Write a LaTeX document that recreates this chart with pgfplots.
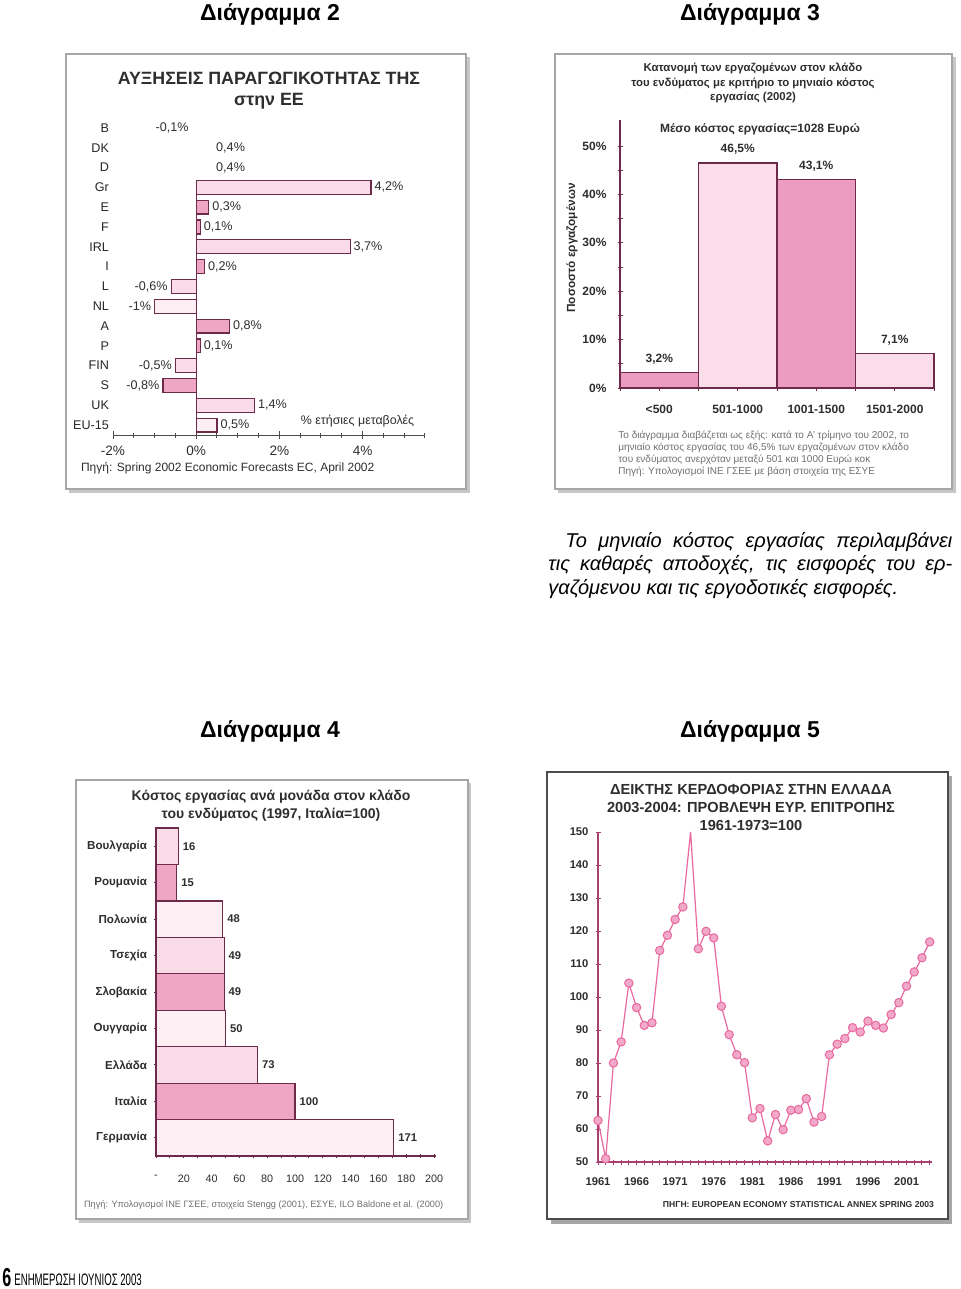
\documentclass[border=0pt]{standalone}
\usepackage{fontspec}
\setmainfont{Liberation Sans}
\usepackage{pgfplots}
\pgfplotsset{compat=1.18}
\definecolor{edge}{HTML}{6E2A4B}
\definecolor{pkL}{HTML}{FADCE8}
\definecolor{pkM}{HTML}{EFA6C5}
\definecolor{pkV}{HTML}{FDEFF4}
\definecolor{pk3M}{HTML}{EC9CC0}
\definecolor{pk3L}{HTML}{FBDDE9}
\definecolor{lineP}{HTML}{E8699F}
\definecolor{markP}{HTML}{F2A8C8}
\definecolor{axP}{HTML}{A8406F}
\definecolor{srcgray}{HTML}{707070}
\definecolor{txt}{HTML}{2E2E2E}
\pgfplotsset{
  every axis/.append style={scale only axis, tick align=outside},
  posl/.style={every node near coord/.append style={anchor=west}},
  negl/.style={every node near coord/.append style={anchor=east}},
}
\begin{document}
\begin{tikzpicture}[x=0.5pt,y=-0.5pt]
\useasboundingbox (0,0) rectangle (960,1289);
\fill[white] (0,0) rectangle (960,1289);

% ---------- headers ----------
\begin{scope}[every node/.style={font=\bfseries\fontsize{11.5}{13}\selectfont, text=black}]
\node at (270,14) {Διάγραμμα 2};
\node at (750,14) {Διάγραμμα 3};
\node at (270,731) {Διάγραμμα 4};
\node at (750,731) {Διάγραμμα 5};
\end{scope}

% ---------- boxes ----------
\fill[black!22] (69,57) rectangle (470,493);
\draw[fill=white, draw=black!35, line width=1pt] (66,54) rectangle (466,489);
\fill[black!22] (558,57) rectangle (956,493);
\draw[fill=white, draw=black!35, line width=1pt] (555,54) rectangle (952,489);
\fill[black!22] (79,783) rectangle (471,1223);
\draw[fill=white, draw=black!35, line width=1pt] (76,780) rectangle (468,1219);
\fill[black!35] (551,776) rectangle (952,1224);
\draw[fill=white, draw=black!70, line width=1.2pt] (547,772) rectangle (948,1219);

% ================= Chart 2 =================
\node[align=center, text=txt, font=\bfseries\fontsize{8.9}{10.5}\selectfont] at (269,91) {ΑΥΞΗΣΕΙΣ ΠΑΡΑΓΩΓΙΚΟΤΗΤΑΣ ΤΗΣ\\στην ΕΕ};
\node[anchor=west, text=txt, font=\fontsize{6}{7}\selectfont] at (74,468) {Πηγή: Spring 2002 Economic Forecasts EC, April 2002};
\begin{scope}[x=1cm,y=1cm]
\begin{axis}[
  at={(56.5pt,-217.5pt)}, anchor=south west, width=156pt, height=158.5pt,
  xmin=-2, xmax=5.5, ymin=-0.5, ymax=15.5,
  axis x line=bottom, axis y line=left,
  axis line style={-},
  y axis line style={draw=none}, ytick style={draw=none},
  x axis line style={black!70, line width=0.5pt},
  xtick={-2,0,2,4}, xticklabels={-2\%,0\%,2\%,4\%},
  minor xtick={-1.5,-1,...,5.5},
  major tick length=4pt, minor tick length=2.5pt,
  xtick style={black!70, line width=0.5pt},
  ytick={0,...,15},
  yticklabels={EU-15,UK,S,FIN,P,A,NL,L,I,IRL,F,E,Gr,D,DK,B},
  yticklabel style={font=\fontsize{6.3}{7}\selectfont, text=black!85, xshift=3.5pt},
  xticklabel style={font=\fontsize{6.8}{8}\selectfont, text=txt},
  clip=false,
  point meta=explicit symbolic,
  nodes near coords={\pgfplotspointmeta\%},
  every node near coord/.append style={font=\fontsize{6.3}{7}\selectfont, text=txt, inner sep=1.5pt},
]
\addplot[xbar, bar shift=0pt, bar width=0.7, fill=pkL, draw=edge, line width=0.6pt, posl]
  coordinates {(4.2,12) [4,2] (3.7,9) [3,7] (1.4,1) [1,4]};
\addplot[xbar, bar shift=0pt, bar width=0.7, fill=pkM, draw=edge, line width=0.6pt, posl]
  coordinates {(0.3,11) [0,3] (0.1,10) [0,1] (0.2,8) [0,2] (0.8,5) [0,8] (0.1,4) [0,1]};
\addplot[xbar, bar shift=0pt, bar width=0.7, fill=pkV, draw=edge, line width=0.6pt, posl]
  coordinates {(0.5,0) [0,5]};
\addplot[xbar, bar shift=0pt, bar width=0.7, fill=pkL, draw=edge, line width=0.6pt, negl]
  coordinates {(-0.6,7) [-0,6] (-0.5,3) [-0,5]};
\addplot[xbar, bar shift=0pt, bar width=0.7, fill=pkV, draw=edge, line width=0.6pt, negl]
  coordinates {(-1,6) [-1]};
\addplot[xbar, bar shift=0pt, bar width=0.7, fill=pkM, draw=edge, line width=0.6pt, negl]
  coordinates {(-0.8,2) [-0,8]};
\addplot[xbar, bar shift=0pt, bar width=0.7, fill=none, draw=none, negl]
  coordinates {(-0.1,15) [-0,1]};
\addplot[xbar, bar shift=0pt, bar width=0.7, fill=none, draw=none, posl]
  coordinates {(0.4,14) [0,4] (0.4,13) [0,4]};
\draw[edge, line width=0.6pt] (axis cs:0,-0.5) -- (axis cs:0,12.35);
\node[font=\fontsize{6.2}{7}\selectfont, text=txt] at (axis cs:3.88,0.2) {\% ετήσιες μεταβολές};
\end{axis}
\end{scope}

% ================= Chart 3 =================
\node[align=center, text=txt, font=\bfseries\fontsize{5.7}{7.25}\selectfont] at (753,83) {Κατανομή των εργαζομένων στον κλάδο\\του ενδύματος με κριτήριο το μηνιαίο κόστος\\εργασίας (2002)};
\node[text=txt, font=\bfseries\fontsize{6}{7}\selectfont] at (760,129) {Μέσο κόστος εργασίας=1028 Ευρώ};
\node[rotate=90, text=txt, font=\bfseries\fontsize{5.9}{7}\selectfont] at (572,248) {Ποσοστό εργαζομένων};
\node[anchor=north west, align=left, text=srcgray, inner sep=0pt, font=\fontsize{5}{6}\selectfont] at (618,431) {Το διάγραμμα διαβάζεται ως εξής: κατά το Α' τρίμηνο του 2002, το\\μηνιαίο κόστος εργασίας του 46,5\% των εργαζομένων στον κλάδο\\του ενδύματος ανερχόταν μεταξύ 501 και 1000 Ευρώ κοκ\\Πηγή: Υπολογισμοί ΙΝΕ ΓΣΕΕ με βάση στοιχεία της ΕΣΥΕ};
\begin{scope}[x=1cm,y=1cm]
\begin{axis}[
  at={(310pt,-194pt)}, anchor=south west, width=157pt, height=134pt,
  xmin=0, xmax=4, ymin=0, ymax=55.4,
  axis x line=bottom, axis y line=left,
  axis line style={-, edge, line width=0.6pt},
  tick style={edge, line width=0.5pt},
  major tick length=2.5pt, minor tick length=2.5pt,
  xtick={0.5,1.5,2.5,3.5}, xticklabels={<500,501-1000,1001-1500,1501-2000},
  minor xtick={0,1,2,3,4},
  ytick={0,10,...,50}, yticklabels={0\%,10\%,20\%,30\%,40\%,50\%},
  minor ytick={5,15,...,45},
  xticklabel style={font=\bfseries\fontsize{6}{7}\selectfont, text=txt, yshift=-4pt},
  yticklabel style={font=\bfseries\fontsize{6}{7}\selectfont, text=txt, xshift=-2pt},
  point meta=explicit symbolic,
  every node near coord/.append style={font=\bfseries\fontsize{6}{7}\selectfont, text=txt, yshift=0.5pt},
  clip=false,
]
\addplot[ybar, bar shift=0pt, bar width=1, fill=pk3M, draw=edge, line width=0.6pt,
  nodes near coords={\pgfplotspointmeta\%}]
  coordinates {(0.5,3.2) [3,2] (2.5,43.1) [43,1]};
\addplot[ybar, bar shift=0pt, bar width=1, fill=pk3L, draw=edge, line width=0.6pt,
  nodes near coords={\pgfplotspointmeta\%}]
  coordinates {(1.5,46.5) [46,5] (3.5,7.1) [7,1]};
\end{axis}
\end{scope}

% ================= Chart 4 =================
\node[align=center, text=txt, font=\bfseries\fontsize{7}{9}\selectfont] at (271,806) {Κόστος εργασίας ανά μονάδα στον κλάδο\\του ενδύματος (1997, Ιταλία=100)};
\node[anchor=west, text=srcgray, font=\fontsize{4.6}{5.5}\selectfont] at (77,1205) {Πηγή: Υπολογισμοί ΙΝΕ ΓΣΕΕ, στοιχεία Stengg (2001), ΕΣΥΕ, ILO Baldone et al. (2000)};
\begin{scope}[x=1cm,y=1cm]
\begin{axis}[
  at={(78pt,-578pt)}, anchor=south west, width=140pt, height=164pt,
  xmin=0, xmax=201.4, ymin=-0.5, ymax=8.5,
  axis x line=bottom, axis y line=left,
  axis line style={-, edge, line width=0.6pt},
  tick style={edge, line width=0.5pt},
  major tick length=2pt, minor tick length=2pt,
  xtick={0,20,...,200}, xticklabels={-,20,40,60,80,100,120,140,160,180,200},
  minor xtick={10,30,...,190},
  ytick={0,...,8},
  yticklabels={Γερμανία,Ιταλία,Ελλάδα,Ουγγαρία,Σλοβακία,Τσεχία,Πολωνία,Ρουμανία,Βουλγαρία},
  xticklabel style={font=\fontsize{5.4}{6}\selectfont, text=txt, yshift=-5pt},
  yticklabel style={font=\bfseries\fontsize{5.8}{7}\selectfont, text=txt},
  point meta=explicit symbolic,
  nodes near coords,
  every node near coord/.append style={font=\bfseries\fontsize{5.6}{7}\selectfont, text=txt, inner sep=2pt},
  clip=false,
]
\addplot[xbar, bar shift=0pt, bar width=1, fill=pkV, draw=edge, line width=0.6pt, posl]
  coordinates {(171,0) [171] (50,3) [50] (48,6) [48]};
\addplot[xbar, bar shift=0pt, bar width=1, fill=pkL, draw=edge, line width=0.6pt, posl]
  coordinates {(73,2) [73] (49,5) [49] (16,8) [16]};
\addplot[xbar, bar shift=0pt, bar width=1, fill=pkM, draw=edge, line width=0.6pt, posl]
  coordinates {(100,1) [100] (49,4) [49] (15,7) [15]};
\end{axis}
\end{scope}

% ================= Chart 5 =================
\node[align=center, text=txt, font=\bfseries\fontsize{7.3}{9}\selectfont] at (751,807) {ΔΕΙΚΤΗΣ ΚΕΡΔΟΦΟΡΙΑΣ ΣΤΗΝ ΕΛΛΑΔΑ\\2003-2004: ΠΡΟΒΛΕΨΗ ΕΥΡ. ΕΠΙΤΡΟΠΗΣ\\1961-1973=100};
\node[anchor=east, text=txt, font=\bfseries\fontsize{4.3}{5}\selectfont] at (941,1205) {ΠΗΓΗ: EUROPEAN ECONOMY STATISTICAL ANNEX SPRING 2003};
\begin{scope}[x=1cm,y=1cm]
\begin{axis}[
  at={(299pt,-581pt)}, anchor=south west, width=167pt, height=165pt,
  xmin=1961, xmax=2004.3, ymin=50, ymax=150,
  axis x line=bottom, axis y line=left,
  axis line style={-, axP, line width=0.6pt},
  tick style={axP, line width=0.5pt},
  major tick length=2.5pt, minor tick length=2.5pt,
  xtick={1961,1966,...,2001}, xticklabels={1961,1966,1971,1976,1981,1986,1991,1996,2001},
  minor xtick={1962,...,2004},
  ytick={50,60,...,150}, yticklabels={50,60,70,80,90,100,110,120,130,140,150},
  xticklabel style={font=\bfseries\fontsize{5.6}{7}\selectfont, text=txt, yshift=-3pt},
  yticklabel style={font=\bfseries\fontsize{5.6}{7}\selectfont, text=txt},
  clip=false,
]
\addplot[lineP, line width=0.6pt, no marks] coordinates {
(1961,62.6) (1962,51) (1963,80) (1964,86.4) (1965,104.2) (1966,96.8) (1967,91.4) (1968,92.2)
(1969,114.1) (1970,118.7) (1971,123.5) (1972,127.3) (1973,150) (1974,114.6) (1975,119.9)
(1976,117.9) (1977,97.2) (1978,88.6) (1979,82.5) (1980,80.1) (1981,63.4) (1982,66.2)
(1983,56.4) (1984,64.4) (1985,59.8) (1986,65.7) (1987,65.9) (1988,69.2) (1989,62.1)
(1990,63.8) (1991,82.5) (1992,85.7) (1993,87.4) (1994,90.7) (1995,89.4) (1996,92.7)
(1997,91.4) (1998,90.6) (1999,94.7) (2000,98.3) (2001,103.3) (2002,107.6) (2003,111.9) (2004,116.7)};
\addplot[only marks, mark=*, mark size=2.1pt, mark options={fill=markP, draw=lineP, line width=0.5pt}] coordinates {
(1961,62.6) (1962,51) (1963,80) (1964,86.4) (1965,104.2) (1966,96.8) (1967,91.4) (1968,92.2)
(1969,114.1) (1970,118.7) (1971,123.5) (1972,127.3) (1974,114.6) (1975,119.9)
(1976,117.9) (1977,97.2) (1978,88.6) (1979,82.5) (1980,80.1) (1981,63.4) (1982,66.2)
(1983,56.4) (1984,64.4) (1985,59.8) (1986,65.7) (1987,65.9) (1988,69.2) (1989,62.1)
(1990,63.8) (1991,82.5) (1992,85.7) (1993,87.4) (1994,90.7) (1995,89.4) (1996,92.7)
(1997,91.4) (1998,90.6) (1999,94.7) (2000,98.3) (2001,103.3) (2002,107.6) (2003,111.9) (2004,116.7)};
\end{axis}
\end{scope}

% ---------- caption ----------
\node[anchor=north west, text width=202pt, align=justify, inner sep=0pt,
  font=\itshape\fontsize{10}{11.75}\selectfont] at (548,532)
  {\hyphenpenalty=10000\hspace*{8.5pt}Το μηνιαίο κόστος εργασίας περιλαμβάνει\linebreak τις καθαρές αποδοχές, τις εισφορές του ερ-\linebreak γαζόμενου και τις εργοδοτικές εισφορές.};

% ---------- footer ----------
\node[anchor=south west, inner sep=0pt] at (2,1287) {\bfseries\fontsize{13}{13}\selectfont\scalebox{0.62}[1]{6}};
\node[anchor=south west, inner sep=0pt] at (14,1286) {\fontsize{8.3}{9}\selectfont\scalebox{0.58}[1]{ΕΝΗΜΕΡΩΣΗ ΙΟΥΝΙΟΣ 2003}};
\end{tikzpicture}
\end{document}
